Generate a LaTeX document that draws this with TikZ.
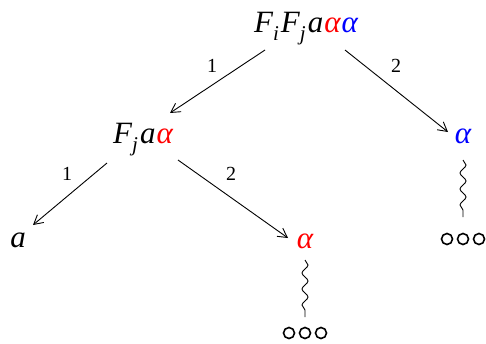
\documentclass[tikz,border=0pt]{standalone}
\usepackage{fontspec}
\setmainfont{Liberation Serif}
\usetikzlibrary{arrows.meta,decorations.pathmorphing}
\newcommand{\sbs}[1]{\raisebox{-0.28em}{\fontsize{21}{22}\selectfont #1}\hspace{2pt}}
\begin{document}
\begin{tikzpicture}[x=1pt,y=-1pt,
  lbl/.style={font=\fontsize{31}{34}\selectfont\itshape,inner sep=0pt,anchor=base},
  num/.style={font=\fontsize{20}{22}\selectfont,inner sep=0pt},
  arr/.style={line width=0.9pt,-{Straight Barb[length=9pt,width=10pt,line width=0.9pt]}},
  wig/.style={line width=0.9pt,decorate,decoration={snake,amplitude=3pt,segment length=16pt}},
  dot/.style={circle,draw,line width=1.6pt,minimum size=11pt,inner sep=0pt}]
\useasboundingbox (0,0) rectangle (486,343);
\node[lbl] (top) at (306,32) {F\sbs{i}F\sbs{j}a\kern1pt\textcolor{red}{α}\kern1pt\textcolor{blue}{α}};
\node[lbl] (mid) at (143,143) {F\sbs{j}a\kern1pt\textcolor{red}{α}};
\node[lbl,text=blue] (ra) at (463,143) {α};
\node[lbl] (la) at (18,247) {a};
\node[lbl,text=red] (ma) at (305,248) {α};
\coordinate (t1s) at (265,50); \coordinate (t1e) at (170,113);
\coordinate (t2s) at (345,50); \coordinate (t2e) at (448,132);
\coordinate (m1s) at (107,163); \coordinate (m1e) at (33,225);
\coordinate (m2s) at (178,160); \coordinate (m2e) at (288,238);
\draw[arr] (t1s) -- (t1e);
\draw[arr] (t2s) -- (t2e);
\draw[arr] (m1s) -- (m1e);
\draw[arr] (m2s) -- (m2e);
\node[num] (n1) at (212,66) {1};
\node[num] (n2) at (396,66) {2};
\node[num] (n3) at (67,174) {1};
\node[num] (n4) at (231,174) {2};
\coordinate (w1s) at (305,260); \coordinate (w1e) at (305,317);
\coordinate (w2s) at (463,160); \coordinate (w2e) at (463,217);
\draw[wig] (w1s) -- (w1e);
\draw[wig] (w2s) -- (w2e);
\node[dot] (c1) at (289,333) {};
\node[dot] (c2) at (305,333) {};
\node[dot] (c3) at (321,333) {};
\node[dot] (c4) at (447,239) {};
\node[dot] (c5) at (463,239) {};
\node[dot] (c6) at (479,239) {};
\end{tikzpicture}
\end{document}
